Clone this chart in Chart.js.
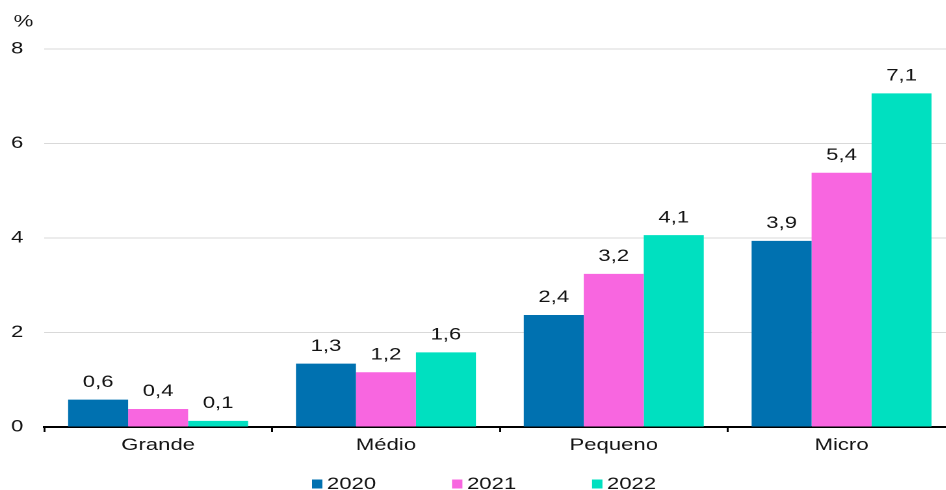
<!DOCTYPE html>
<html>
<head>
<meta charset="utf-8">
<script src="https://cdn.jsdelivr.net/npm/chart.js@4.4.0/dist/chart.umd.min.js"></script>
<style>
  html, body { margin: 0; padding: 0; background: #fff; overflow: hidden; width: 946px; height: 490px; }
  #wrap { width: 735px; height: 490px; transform: scaleX(1.3); transform-origin: 0 0; }
  canvas { display: block; }
</style>
</head>
<body>
<div id="wrap"><canvas id="c" width="735" height="490"></canvas></div>
<script>
const categories = ['Grande', 'Médio', 'Pequeno', 'Micro'];
const seriesNames = ['2020', '2021', '2022'];
const values2020 = [0.58, 1.34, 2.37, 3.94];
const values2021 = [0.38, 1.16, 3.24, 5.38];
const values2022 = [0.13, 1.58, 4.06, 7.06];
const yTicks = [0, 2, 4, 6, 8];
const unitLabel = '%';

const colors = ['#0071b0', '#f866e0', '#00e0c0'];
const FONT = "'Liberation Sans', Arial, sans-serif";
const TEXT = '#141414';
const FS = 17;

const fmt = v => v.toFixed(1).replace('.', ',');

const labelPlugin = {
  id: 'labels',
  afterDatasetsDraw(chart) {
    const ctx = chart.ctx;
    ctx.save();
    ctx.font = FS + 'px ' + FONT;
    ctx.fillStyle = TEXT;
    ctx.textAlign = 'center';
    ctx.textBaseline = 'bottom';
    chart.data.datasets.forEach((ds, i) => {
      const meta = chart.getDatasetMeta(i);
      meta.data.forEach((bar, j) => {
        ctx.fillText(fmt(ds.data[j]), bar.x, bar.y - 9);
      });
    });
    // unit label
    ctx.textAlign = 'left';
    ctx.textBaseline = 'middle';
    ctx.fillText(unitLabel, 10.5, 22);
    // legend
    const spacing = 107.7;
    chart.data.datasets.forEach((ds, i) => {
      const x = 240 + i * spacing;
      const y = 484;
      ctx.fillStyle = ds.backgroundColor;
      ctx.fillRect(x, y - 4.5, 8, 9);
      ctx.fillStyle = TEXT;
      ctx.textAlign = 'left';
      ctx.textBaseline = 'middle';
      ctx.fillText(ds.label, x + 11.5, y + 0.5);
    });
    ctx.restore();
  }
};

new Chart(document.getElementById('c'), {
  type: 'bar',
  data: {
    labels: categories,
    datasets: [
      { label: seriesNames[0], data: values2020, backgroundColor: colors[0] },
      { label: seriesNames[1], data: values2021, backgroundColor: colors[1] },
      { label: seriesNames[2], data: values2022, backgroundColor: colors[2] }
    ]
  },
  options: {
    responsive: false,
    animation: false,
    devicePixelRatio: 2,
    layout: { padding: { top: 49, bottom: 0, left: 0, right: 0 } },
    datasets: { bar: { categoryPercentage: 0.79, barPercentage: 1.0, borderWidth: 0 } },
    plugins: { legend: { display: false }, tooltip: { enabled: false } },
    scales: {
      x: {
        offset: true,
        grid: { display: true, drawOnChartArea: false, drawTicks: true, tickLength: 5, color: '#000', lineWidth: 1.5, offset: true },
        border: { display: true, color: '#000', width: 2 },
        ticks: { font: { family: FONT, size: FS }, color: TEXT, padding: 3 },
        afterFit(scale) { scale.height = 63; }
      },
      y: {
        min: 0, max: 8,
        afterBuildTicks(scale) { scale.ticks = yTicks.map(v => ({ value: v })); },
        grid: { color: '#d9d9d9', lineWidth: 1, drawTicks: false },
        border: { display: false },
        ticks: { font: { family: FONT, size: FS }, color: TEXT, padding: 16 },
        afterFit(scale) { scale.width = 34; }
      }
    }
  },
  plugins: [labelPlugin]
});
</script>
</body>
</html>
